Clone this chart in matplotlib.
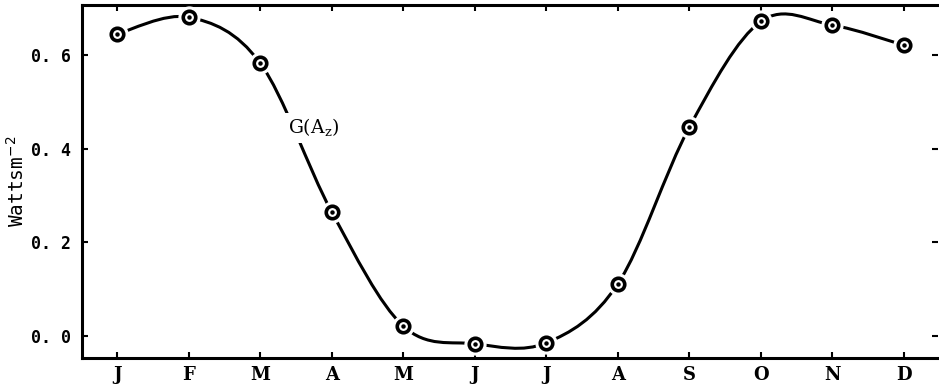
import numpy as np
import matplotlib
matplotlib.use("Agg")
import matplotlib.pyplot as plt
from matplotlib.path import Path
from matplotlib.patches import PathPatch

months = ["J", "F", "M", "A", "M", "J", "J", "A", "S", "O", "N", "D"]
g_az = [0.645, 0.681, 0.583, 0.265, 0.021, -0.017, -0.015, 0.111, 0.446, 0.672, 0.664, 0.621]
y_ticks = [0.0, 0.2, 0.4, 0.6]
y_tick_labels = ["0. 0", "0. 2", "0. 4", "0. 6"]


def smooth_path(xs, ys):
    # Catmull-Rom through the points, written as cubic Bezier segments
    pts = np.column_stack([xs, ys])
    verts = [pts[0]]
    codes = [Path.MOVETO]
    n = len(pts)
    for i in range(n - 1):
        p0 = pts[i - 1] if i > 0 else pts[i]
        p1 = pts[i]
        p2 = pts[i + 1]
        p3 = pts[i + 2] if i + 2 < n else pts[i + 1]
        c1 = p1 + (p2 - p0) / 6.0
        c2 = p2 - (p3 - p1) / 6.0
        verts += [c1, c2, p2]
        codes += [Path.CURVE4] * 3
    return Path(verts, codes)


x = np.arange(len(months))

fig = plt.figure(figsize=(9.39, 3.86), dpi=100)
ax = fig.add_axes([0.0873, 0.073, 0.912, 0.914])

ax.add_patch(PathPatch(smooth_path(x, g_az), facecolor="none", edgecolor="black",
                       lw=2.2, zorder=2))
# white halo to leave a gap around each marker
ax.plot(x, g_az, "o", ms=15, mfc="white", mec="white", zorder=3)
ax.plot(x, g_az, "o", ms=9, mfc="white", mec="black", mew=2.6, zorder=4)
ax.plot(x, g_az, "o", ms=2.2, mfc="black", mec="black", zorder=5)

ax.text(2.39, 0.444, r"G(A$_\mathregular{z}$)", fontsize=13.5, family="DejaVu Serif",
        ha="left", va="center", zorder=6,
        bbox=dict(facecolor="white", edgecolor="none", pad=3))

ax.set_xlim(-0.49, 11.48)
ax.set_ylim(-0.047, 0.707)

ax.set_xticks(x)
ax.set_xticklabels(months, family="DejaVu Serif", fontweight="bold", fontsize=13)
ax.set_yticks(y_ticks)
ax.set_yticklabels(y_tick_labels, family="DejaVu Sans Mono", fontweight="bold", fontsize=12)
ax.set_ylabel("Wattsm$^{-2}$", family="DejaVu Sans Mono", fontsize=14, labelpad=2)

ax.tick_params(direction="in", length=4, width=1.5, top=True, right=True)
ax.tick_params(axis="y", pad=8)
ax.tick_params(axis="x", pad=6)

for side in ["left", "bottom", "top"]:
    ax.spines[side].set_linewidth(2.2)
ax.spines["right"].set_visible(False)

fig.savefig("out.png", dpi=100)
plt.close(fig)
